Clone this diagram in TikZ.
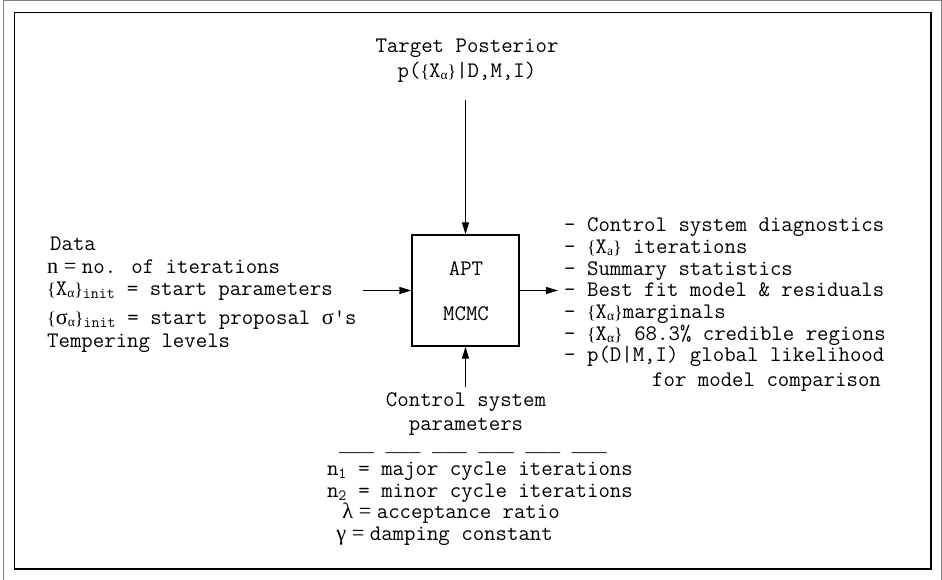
\documentclass[tikz,border=0pt]{standalone}
\usepackage{fontspec}
\newfontfamily\symf{Liberation Serif}
\newfontfamily\lmonof{Liberation Mono}
\usetikzlibrary{arrows.meta}
\newcommand{\ga}{{\symf α}}
\newcommand{\lbr}{{\symf\fontsize{18}{18}\selectfont\{}}
\newcommand{\rbr}{{\symf\fontsize{18}{18}\selectfont\}}}
\newcommand{\sbs}[1]{\raisebox{-2pt}{\fontsize{13.5}{13.5}\selectfont #1}}
\newcommand{\Xset}[2]{\lbr#1\sbs{#2}\rbr}
\begin{document}
\begin{tikzpicture}[x=1pt,y=-1pt,
  every node/.style={inner sep=0pt, font=\ttfamily\fontsize{22.2}{24}\selectfont},
  txtw/.style={anchor=base west},
  txte/.style={anchor=base east},
  txtc/.style={anchor=base},
  arr/.style={-{Triangle[length=12pt,width=7pt]}, line width=1.2pt},
  framebox/.style={draw, line width=1.3pt, minimum width=107pt, minimum height=111pt}]
\useasboundingbox (0,0) rectangle (942,580);
% frames
\draw[gray, line width=1pt] (3,581) -- (3,1) -- (941,1) -- (941,581);
\draw[line width=1.5pt] (14.5,12.5) rectangle (931,569);
% central box
\node[framebox] (apt) at (465.5,290.5) {};
\node[txtc] (aptl) at (466,275) {APT};
\node[txtc] (mcmc) at (466,320) {MCMC};
% top
\node[txtc] (tp1) at (467,53) {Target Posterior};
\node[txtc] (tp2) at (467,78) {p(\Xset{X}{\ga}|D,M,I)};
\coordinate (tin) at (465.5,100);
\draw[arr] (tin) -- (apt.north);
% left
\node[txtw] (l1) at (50,251) {Data};
\node[txtw] (l2) at (47,273) {{\symf n = }no. of iterations};
\node[txtw] (l3) at (47,295) {\Xset{X}{\ga}\textsubscript{init} = start parameters};
\node[txtw] (l4) at (47,324) {\Xset{{\symf σ}}{\ga}\textsubscript{init} = start proposal {\symf σ}\textquotesingle s};
\node[txtw] (l5) at (47,347) {Tempering levels};
\coordinate (lin) at (363,290.5);
\draw[arr] (lin) -- (apt.west);
% right
\coordinate (rout) at (558,290.5);
\draw[arr] (apt.east) -- (rout);
\node[txtw] (r1) at (564,232) {- Control system diagnostics};
\node[txtw] (r2) at (564,253.6) {- \Xset{X}{\symf a} iterations};
\node[txtw] (r3) at (564,275.2) {- Summary statistics};
\node[txtw] (r4) at (564,296.8) {- Best fit model \& residuals};
\node[txtw] (r5) at (564,318.4) {- \Xset{X}{\ga}marginals};
\node[txtw] (r6) at (564,340) {- \Xset{X}{\ga} 68.3\% credible regions};
\node[txtw] (r7) at (564,361.6) {- p(D|M,I) global likelihood};
\node[txtw] (r8) at (652,386) {for model comparison};
% bottom
\coordinate (bin) at (465.5,387);
\draw[arr] (bin) -- (apt.south);
\node[txtc] (b1) at (466,406) {Control system};
\node[txtc] (b2) at (466,430) {parameters};
\node[txte, font=\lmonof\fontsize{19.4}{20}\selectfont] (b3) at (607,451) {\_\_\_ \_\_\_ \_\_\_ \_\_\_ \_\_\_ \_\_\_};
\node[txte] (b4) at (633,475) {n\textsubscript{1} = major cycle iterations};
\node[txte] (b5) at (633,497) {n\textsubscript{2} = minor cycle iterations};
\node[txte] (b6) at (560,518) {{\symf λ = }acceptance ratio};
\node[txte] (b7) at (553,540) {{\symf γ = }damping constant};
\end{tikzpicture}
\end{document}
